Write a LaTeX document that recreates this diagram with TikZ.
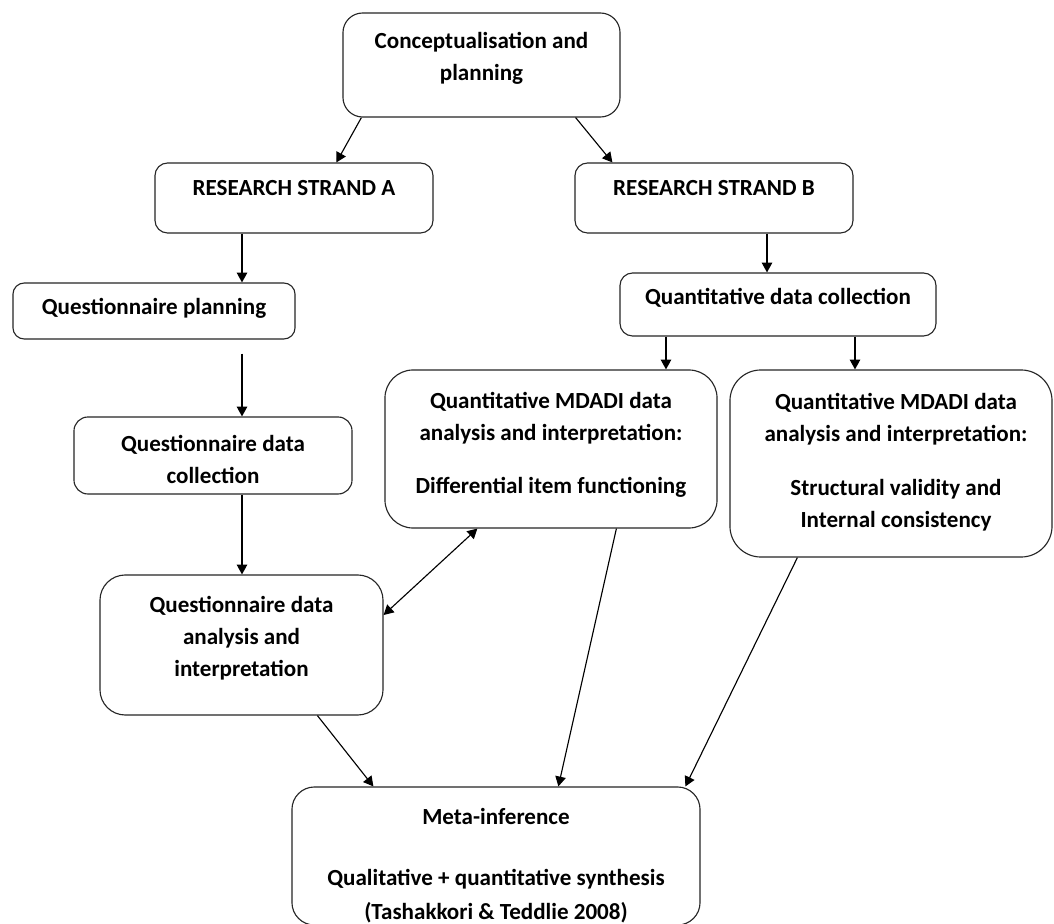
\documentclass[tikz,border=0pt]{standalone}
\usepackage{fontspec}
\setmainfont{Carlito}
\usetikzlibrary{arrows.meta,calc}
\begin{document}
\begin{tikzpicture}[x=0.025cm,y=-0.025cm,
box/.style={draw=black!85, line width=0.8pt, fill=white},
txt/.style={align=center, font=\bfseries\fontsize{16.4}{22.8}\selectfont, inner sep=0pt},
arr/.style={-{Triangle[length=7pt,width=7.5pt]}, line width=0.8pt},
dblarr/.style={{Triangle[length=7pt,width=7.5pt]}-{Triangle[length=7pt,width=7.5pt]}, line width=0.8pt}]
\useasboundingbox (0,0) rectangle (1054,924);
\node[box, rounded corners=14pt, minimum width=6.925cm, minimum height=2.6cm] (concept) at (481.5,65) {};
\node[box, rounded corners=9pt, minimum width=6.95cm, minimum height=1.75cm] (strandA) at (294,198) {};
\node[box, rounded corners=9pt, minimum width=6.95cm, minimum height=1.75cm] (strandB) at (714,198) {};
\node[box, rounded corners=8pt, minimum width=7.05cm, minimum height=1.4cm] (qplan) at (154,311) {};
\node[box, rounded corners=9pt, minimum width=7.9cm, minimum height=1.575cm] (quantcoll) at (778,304.5) {};
\node[box, rounded corners=10pt, minimum width=6.95cm, minimum height=1.925cm] (qcoll) at (213,455.5) {};
\node[box, rounded corners=20pt, minimum width=8.3cm, minimum height=3.95cm] (mdadiA) at (551,449) {};
\node[box, rounded corners=22pt, minimum width=8.05cm, minimum height=4.675cm] (mdadiB) at (891,463.5) {};
\node[box, rounded corners=18pt, minimum width=7.075cm, minimum height=3.5cm] (qanal) at (241.5,645) {};
\node[box, rounded corners=16pt, minimum width=10.2cm, minimum height=3.45cm] (meta) at (496,856) {};
\node[txt] (conceptT) at (481.5,58) {Conceptualisation and\\planning};
\node[txt] (strandAT) at (294,188) {RESEARCH STRAND A};
\node[txt] (strandBT) at (714,188) {RESEARCH STRAND B};
\node[txt] (qplanT) at (154,308) {Questionnaire planning};
\node[txt] (quantcollT) at (778,298) {Quantitative data collection};
\node[txt] (qcollT) at (213,459.5) {Questionnaire data\\collection};
\node[txt] (mdadiAT) at (551,444.5) {Quantitative MDADI data\\analysis and interpretation:\\[15pt]Differential item functioning};
\node[txt] (mdadiBT) at (896,462) {Quantitative MDADI data\\analysis and interpretation:\\[15.5pt]Structural validity and\\Internal consistency};
\node[txt] (qanalT) at (241.5,638.5) {Questionnaire data\\analysis and\\interpretation};
\node[txt] (metaT) at (496,866) {Meta-inference\\[20pt]Qualitative + quantitative synthesis\\[2pt](Tashakkori \& Teddlie 2008)};
\coordinate (colA) at (242,0);
\coordinate (colB) at (767,0);
\coordinate (colC) at (666,0);
\coordinate (colD) at (855,0);
\draw[arr] ($(concept.south west)+(19,0)$) -- ($(strandA.north west)+(182,0)$);
\draw[arr] ($(concept.south east)+(-45,0)$) -- ($(strandB.north west)+(38,0)$);
\draw[arr] (strandA.south -| colA) -- (qplan.north -| colA);
\draw[arr, shorten <=0.35cm] (qplan.south -| colA) -- (qcoll.north -| colA);
\draw[arr] (qcoll.south -| colA) -- (qanal.north -| colA);
\draw[arr] (strandB.south -| colB) -- (quantcoll.north -| colB);
\draw[arr] (quantcoll.south -| colC) -- (mdadiA.north -| colC);
\draw[arr] (quantcoll.south -| colD) -- (mdadiB.north -| colD);
\draw[dblarr] ($(qanal.east)+(0,-30)$) -- ($(mdadiA.south west)+(93,0)$);
\draw[arr] ($(qanal.south west)+(218,0)$) -- ($(meta.north west)+(82,0)$);
\draw[arr] ($(mdadiA.south west)+(232,0)$) -- ($(meta.north west)+(267,0)$);
\draw[arr] ($(mdadiB.south west)+(68,0)$) -- ($(meta.north west)+(394,0)$);
\end{tikzpicture}
\end{document}
